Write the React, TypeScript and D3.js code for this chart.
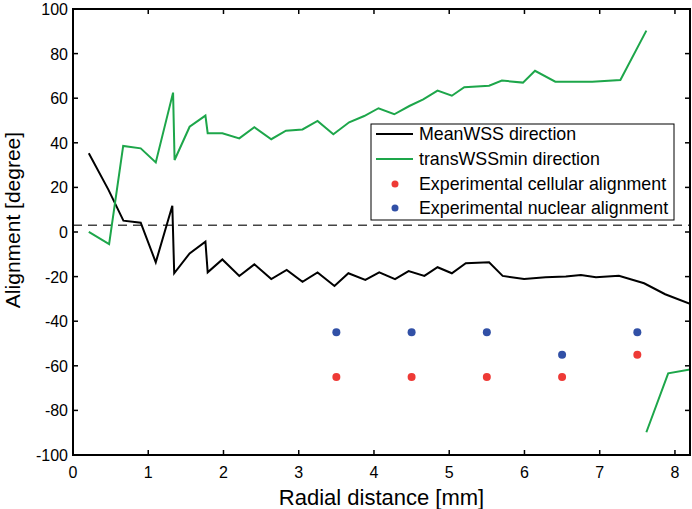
import React from "react";
import * as d3 from "d3";

const meanX = [0.21, 0.47, 0.67, 0.9, 1.1, 1.32, 1.345, 1.55, 1.76, 1.79, 1.985, 2.21, 2.41, 2.635, 2.84, 3.05, 3.25, 3.475, 3.66, 3.885, 4.07, 4.28, 4.46, 4.67, 4.845, 5.035, 5.22, 5.53, 5.71, 5.995, 6.28, 6.55, 6.75, 6.95, 7.255, 7.59, 7.87, 8.2];
const meanY = [35.3, 19, 5.1, 4.2, -13.6, 11.8, -18.5, -9.6, -4.3, -18.1, -12.3, -19.7, -14.5, -21.1, -17, -22.3, -18.1, -24.2, -18.5, -21.5, -18.1, -21.1, -17.5, -19.7, -15.8, -18.5, -14, -13.6, -19.7, -21.1, -20.3, -20, -19.3, -20.3, -19.6, -23, -27.9, -32.2];

const transX = [0.21, 0.48, 0.667, 0.9, 1.1, 1.33, 1.35, 1.55, 1.76, 1.79, 1.985, 2.21, 2.41, 2.635, 2.83, 3.05, 3.25, 3.46, 3.67, 3.87, 4.06, 4.27, 4.47, 4.655, 4.845, 5.035, 5.2, 5.53, 5.7, 5.98, 6.14, 6.41, 6.9, 7.275, 7.62, 7.62, 7.62, 7.91, 8.2];
const transY: (number | null)[] = [0.1, -5.4, 38.6, 37.5, 31.2, 62.5, 32.3, 47.2, 52.2, 44.3, 44.3, 42, 47, 41.6, 45.4, 46, 49.8, 43.8, 49.2, 52, 55.5, 52.8, 56.5, 59.5, 63.4, 61.1, 64.9, 65.6, 67.9, 67, 72.3, 67.4, 67.4, 68.2, 90.3, null, -89.8, -63.4, -61.6];

const expX = [3.5, 4.5, 5.5, 6.5, 7.5];
const cellularY = [-65, -65, -65, -65, -55];
const nuclearY = [-45, -45, -45, -55, -45];

const refLineY = 3;

const xTicks = [0, 1, 2, 3, 4, 5, 6, 7, 8];
const yTicks = [-100, -80, -60, -40, -20, 0, 20, 40, 60, 80, 100];

const legendLabels = [
  "MeanWSS direction",
  "transWSSmin direction",
  "Experimental cellular alignment",
  "Experimental nuclear alignment",
];

const GREEN = "#1da64a";
const RED = "#ee3a36";
const BLUE = "#3150a6";
const FONT = "'Liberation Sans', Arial, Helvetica, sans-serif";

export default function App() {
  const W = 692, H = 509;
  const L = 73, R = 690, T = 9, B = 455;
  const x = d3.scaleLinear().domain([0, 8.2]).range([L, R]);
  const y = d3.scaleLinear().domain([-100, 100]).range([B, T]);

  const meanData = meanX.map((v, i) => [v, meanY[i]] as [number, number | null]);
  const transData = transX.map((v, i) => [v, transY[i]] as [number, number | null]);

  const line = d3
    .line<[number, number | null]>()
    .defined((d) => d[1] != null)
    .x((d) => x(d[0]))
    .y((d) => y(d[1] as number));

  const tl = 5;
  const legX = 371, legY = 124, legW = 303, legH = 96;
  const rowY = [134, 159, 184, 208];

  return (
    <svg width={W} height={H} style={{ position: "absolute", left: 0, top: 0, background: "#fff" }} fontFamily={FONT}>
      <defs>
        <clipPath id="plot">
          <rect x={L} y={T} width={R - L} height={B - T} />
        </clipPath>
      </defs>
      <rect x={0} y={0} width={W} height={H} fill="#fff" />

      <g clipPath="url(#plot)">
        <line x1={L} x2={R} y1={y(refLineY)} y2={y(refLineY)} stroke="#444" strokeWidth={1.5} strokeDasharray="9,6" />
        <path d={line(meanData) || ""} fill="none" stroke="#000" strokeWidth={2} />
        <path d={line(transData) || ""} fill="none" stroke={GREEN} strokeWidth={2} />
        {expX.map((v, i) => (
          <circle key={"c" + i} cx={x(v)} cy={y(cellularY[i])} r={4} fill={RED} />
        ))}
        {expX.map((v, i) => (
          <circle key={"n" + i} cx={x(v)} cy={y(nuclearY[i])} r={4} fill={BLUE} />
        ))}
      </g>

      {xTicks.map((t) => (
        <g key={"xt" + t}>
          <line x1={x(t)} x2={x(t)} y1={B} y2={B - tl} stroke="#000" strokeWidth={1.5} />
          <line x1={x(t)} x2={x(t)} y1={T} y2={T + tl} stroke="#000" strokeWidth={1.5} />
          <text x={x(t)} y={478} fontSize={16} textAnchor="middle" fill="#000">{t}</text>
        </g>
      ))}
      {yTicks.map((t) => (
        <g key={"yt" + t}>
          <line x1={L} x2={L + tl} y1={y(t)} y2={y(t)} stroke="#000" strokeWidth={1.5} />
          <line x1={R} x2={R - tl} y1={y(t)} y2={y(t)} stroke="#000" strokeWidth={1.5} />
          <text x={68} y={y(t) + 6} fontSize={16} textAnchor="end" fill="#000">{t < 0 ? "-" + Math.abs(t) : String(t)}</text>
        </g>
      ))}

      <rect x={L} y={T} width={R - L} height={B - T} fill="none" stroke="#000" strokeWidth={2} />

      <rect x={legX} y={legY} width={legW} height={legH} fill="#fff" stroke="#000" strokeWidth={1} />
      <line x1={376} x2={413} y1={rowY[0]} y2={rowY[0]} stroke="#000" strokeWidth={2} />
      <line x1={376} x2={413} y1={rowY[1]} y2={rowY[1]} stroke={GREEN} strokeWidth={2} />
      <circle cx={395} cy={rowY[2]} r={3.5} fill={RED} />
      <circle cx={395} cy={rowY[3]} r={3.5} fill={BLUE} />
      {legendLabels.map((s, i) => (
        <text key={s} x={419} y={rowY[i] + 6} fontSize={17.8} fill="#000">{s}</text>
      ))}

      <text x={(L + R) / 2} y={505} fontSize={22} textAnchor="middle" fill="#000">Radial distance [mm]</text>
      <text transform={`translate(20,${220}) rotate(-90)`} fontSize={21} textAnchor="middle" fill="#000">Alignment [degree]</text>
    </svg>
  );
}
